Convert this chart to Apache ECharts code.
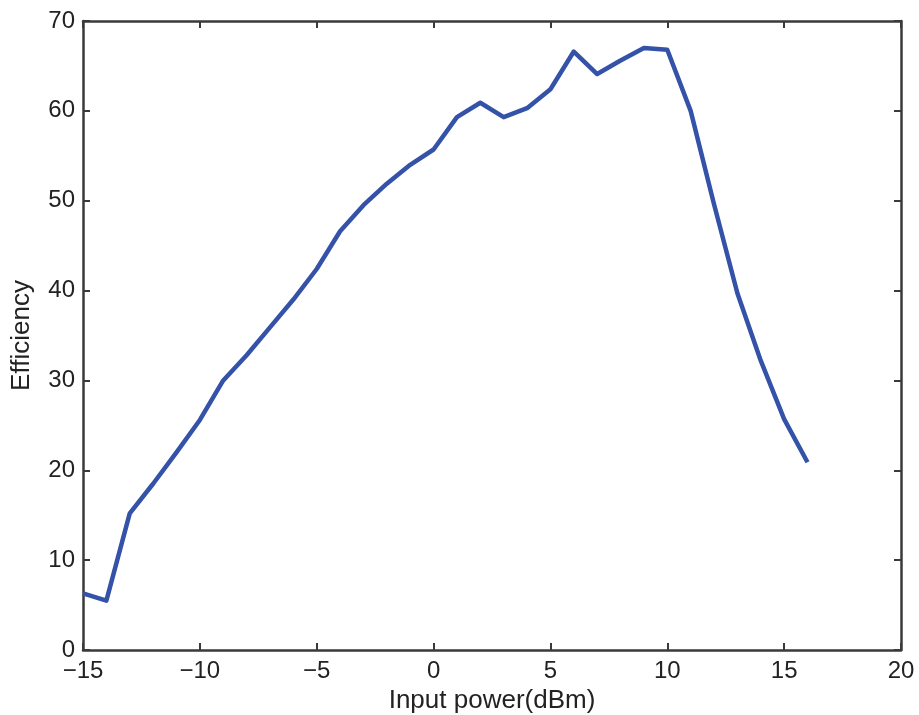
<!DOCTYPE html>
<html>
<head>
<meta charset="utf-8">
<script src="https://cdn.jsdelivr.net/npm/echarts@6/dist/echarts.min.js"></script>
<style>html,body{margin:0;padding:0;background:#fff;}#c{width:919px;height:715px;}</style>
</head>
<body>
<div id="c"></div>
<script>
var inputPower = [-15,-14,-13,-12,-11,-10,-9,-8,-7,-6,-5,-4,-3,-2,-1,0,1,2,3,4,5,6,7,8,9,10,11,12,13,14,15,16];
var efficiency = [6.3,5.5,15.2,18.5,22.0,25.6,30.0,32.8,35.9,39.0,42.4,46.6,49.5,51.9,54.0,55.7,59.3,60.9,59.3,60.3,62.4,66.6,64.1,65.6,67.0,66.8,60.0,49.6,39.7,32.2,25.7,20.9];
var xTicks = {min:-15, max:20, interval:5};
var yTicks = {min:0, max:70, interval:10};

var chart = echarts.init(document.getElementById('c'));
var font = 'Liberation Sans, Arial, sans-serif';
var axisLine = {show:true, onZero:false, lineStyle:{color:'#3a3a3a', width:2.5}};
var tick = {show:true, inside:true, length:7, lineStyle:{color:'#3a3a3a', width:2}};
function fmt(v){ return String(v).replace('-', '\u2212'); }
chart.setOption({
  animation:false,
  grid:{left:83, right:18, top:21, bottom:65, containLabel:false, outerBoundsMode:'none'},
  xAxis:[{
    type:'value', min:xTicks.min, max:xTicks.max, interval:xTicks.interval,
    name:'Input power(dBm)', nameLocation:'middle', nameGap:36,
    nameTextStyle:{fontFamily:font, fontSize:26, color:'#222'},
    axisLine:axisLine, axisTick:tick, splitLine:{show:false},
    axisLabel:{fontFamily:font, fontSize:24, color:'#222', margin:9, formatter:fmt}
  },{
    type:'value', position:'top', min:xTicks.min, max:xTicks.max, interval:xTicks.interval,
    axisLine:axisLine, axisTick:tick, splitLine:{show:false}, axisLabel:{show:false}
  }],
  yAxis:[{
    type:'value', min:yTicks.min, max:yTicks.max, interval:yTicks.interval,
    name:'Efficiency', nameLocation:'middle', nameGap:48,
    nameTextStyle:{fontFamily:font, fontSize:26, color:'#222'},
    axisLine:axisLine, axisTick:tick, splitLine:{show:false},
    axisLabel:{fontFamily:font, fontSize:24, color:'#222', margin:8, formatter:fmt}
  },{
    type:'value', position:'right', min:yTicks.min, max:yTicks.max, interval:yTicks.interval,
    axisLine:axisLine, axisTick:tick, splitLine:{show:false}, axisLabel:{show:false}
  }],
  series:[{
    type:'line', xAxisIndex:0, yAxisIndex:0,
    data: inputPower.map(function(x,i){return [x, efficiency[i]];}),
    showSymbol:false, symbol:'none',
    lineStyle:{color:'#3452A8', width:4.5, join:'round'}
  }]
});
</script>
</body>
</html>
